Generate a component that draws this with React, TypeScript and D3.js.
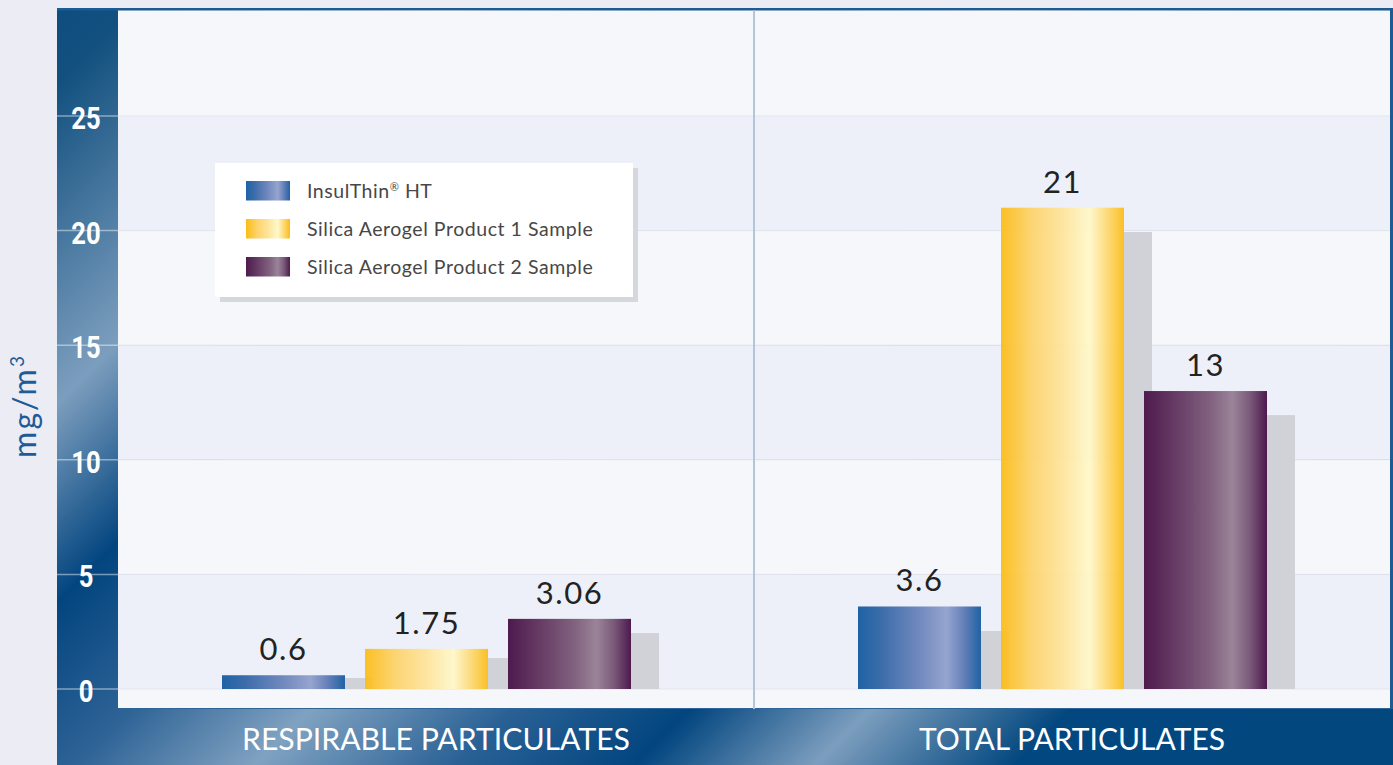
import React from "react";
import * as d3 from "d3";

const categories = ["RESPIRABLE PARTICULATES", "TOTAL PARTICULATES"];
const seriesNames = ["InsulThin HT", "Silica Aerogel Product 1 Sample", "Silica Aerogel Product 2 Sample"];
const insulThin = [0.6, 3.6];
const aerogel1 = [1.75, 21];
const aerogel2 = [3.06, 13];
const shadowInsulThin = [0.48, 2.53];
const shadowAerogel1 = [1.35, 19.94];
const shadowAerogel2 = [2.44, 11.95];
const valueLabels = [["0.6", "3.6"], ["1.75", "21"], ["3.06", "13"]];
const yTicks = [0, 5, 10, 15, 20, 25];

const W = 1393;
const H = 765;

export default function App() {
  const plotLeft = 118;
  const plotRight = 1390;
  const plotTop = 10.5;
  const plotBottom = 709;

  const y = d3.scaleLinear().domain([0, 25]).range([689, 116]);
  const xOuter = d3.scaleBand<string>().domain(categories).range([plotLeft, plotRight]).padding(0);
  const xInner = d3.scaleBand<string>().domain(seriesNames).range([104, 513]).paddingInner(0.14).paddingOuter(0);

  const values = [insulThin, aerogel1, aerogel2];
  const shadows = [shadowInsulThin, shadowAerogel1, shadowAerogel2];
  const gradIds = ["gBlue", "gGold", "gPurple"];
  const catWidths = [388, 306];

  const bands: { y0: number; y1: number; dark: boolean }[] = [];
  bands.push({ y0: plotTop, y1: y(25), dark: false });
  for (let i = yTicks.length - 1; i > 0; i--) {
    const hi = yTicks[i];
    const lo = yTicks[i - 1];
    bands.push({ y0: y(hi), y1: y(lo), dark: (yTicks.length - 1 - i) % 2 === 0 });
  }
  bands.push({ y0: y(0), y1: plotBottom, dark: false });

  const shadowW = 28;

  return (
    <div style={{ position: "absolute", left: 0, top: 0 }}>
      <svg width={W} height={H} viewBox={`0 0 ${W} ${H}`} style={{ display: "block" }}>
        <defs>
          <linearGradient id="frameGrad" gradientUnits="userSpaceOnUse" x1={0} y1={0} x2={1000} y2={1000}>
            <stop offset="0" stopColor="#0B4A80" />
            <stop offset="0.07" stopColor="#12507F" />
            <stop offset="0.23" stopColor="#7C9EBE" />
            <stop offset="0.33" stopColor="#03457F" />
            <stop offset="0.42" stopColor="#2E6396" />
            <stop offset="0.51" stopColor="#80A2C1" />
            <stop offset="0.61" stopColor="#2A6195" />
            <stop offset="0.70" stopColor="#02457F" />
            <stop offset="0.79" stopColor="#7C9EBE" />
            <stop offset="0.89" stopColor="#02477F" />
            <stop offset="1" stopColor="#02487F" />
          </linearGradient>
          <linearGradient id="gBlue" x1="0" y1="0" x2="1" y2="0">
            <stop offset="0" stopColor="#1F62A6" />
            <stop offset="0.18" stopColor="#3A6CAA" />
            <stop offset="0.5" stopColor="#7289BE" />
            <stop offset="0.72" stopColor="#95A5CF" />
            <stop offset="0.86" stopColor="#6580B8" />
            <stop offset="1" stopColor="#1F62A6" />
          </linearGradient>
          <linearGradient id="gGold" x1="0" y1="0" x2="1" y2="0">
            <stop offset="0" stopColor="#FCBC15" />
            <stop offset="0.25" stopColor="#FDD36A" />
            <stop offset="0.5" stopColor="#FEE49A" />
            <stop offset="0.72" stopColor="#FFF8CA" />
            <stop offset="0.87" stopColor="#FDD76E" />
            <stop offset="1" stopColor="#FCBC15" />
          </linearGradient>
          <linearGradient id="gPurple" x1="0" y1="0" x2="1" y2="0">
            <stop offset="0" stopColor="#4E1A4E" />
            <stop offset="0.3" stopColor="#6A4168" />
            <stop offset="0.55" stopColor="#826380" />
            <stop offset="0.72" stopColor="#9B8499" />
            <stop offset="0.86" stopColor="#7A5A7A" />
            <stop offset="1" stopColor="#4E1A4E" />
          </linearGradient>
        </defs>

        <rect x={0} y={0} width={W} height={H} fill="#ECECF5" />
        <rect x={57} y={8} width={W - 57} height={H - 8} fill="url(#frameGrad)" />
        <rect x={57} y={8} width={W - 57} height={2.5} fill="#1D5B92" />
        <rect x={plotRight} y={8} width={W - plotRight} height={plotBottom - 8} fill="#1D5B92" />

        {bands.map((b, i) => (
          <rect key={"band" + i} x={plotLeft} y={b.y0} width={plotRight - plotLeft} height={b.y1 - b.y0}
            fill={b.dark ? "#EDF0F8" : "#F6F7FB"} />
        ))}
        {yTicks.map((t) => (
          <line key={"gl" + t} x1={plotLeft} x2={plotRight} y1={y(t)} y2={y(t)} stroke="#E3E6EF" strokeWidth={1} />
        ))}
        <line x1={plotLeft} x2={plotRight} y1={plotBottom - 0.5} y2={plotBottom - 0.5} stroke="#2F6596" strokeWidth={1} />

        <line x1={xOuter(categories[1])!} x2={xOuter(categories[1])!} y1={plotTop} y2={plotBottom}
          stroke="#B3C5DA" strokeWidth={2} />

        {yTicks.map((t) => (
          <g key={"yt" + t}>
            <line x1={57} x2={plotLeft} y1={y(t)} y2={y(t)} stroke="rgba(255,255,255,0.45)" strokeWidth={1.5} />
            <text transform={`translate(86, ${y(t) + 13}) scale(0.8, 1)`} textAnchor="middle" fill="#FFFFFF"
              style={{ font: "bold 32px Roboto, 'Liberation Sans', sans-serif" }}>
              {t}
            </text>
          </g>
        ))}

        <text transform="translate(36,406) rotate(-90)" textAnchor="middle" fill="#1F5C97"
          style={{ font: "32px Lato, sans-serif", letterSpacing: "2px" }}>
          mg/m<tspan dy={-12} style={{ fontSize: "19px" }}>3</tspan>
        </text>

        {seriesNames.map((s, si) =>
          categories.map((c, ci) => {
            const x0 = xOuter(c)! + xInner(s)! + xInner.bandwidth();
            return (
              <rect key={"sh" + si + ci} x={x0} y={y(shadows[si][ci])} width={shadowW}
                height={y(0) - y(shadows[si][ci])} fill="#D1D2D8" />
            );
          })
        )}

        {seriesNames.map((s, si) =>
          categories.map((c, ci) => {
            const x0 = xOuter(c)! + xInner(s)!;
            const v = values[si][ci];
            return (
              <g key={"bar" + si + ci}>
                <rect x={x0} y={y(v)} width={xInner.bandwidth()} height={y(0) - y(v)}
                  fill={`url(#${gradIds[si]})`} opacity={si === 1 ? 0.93 : 1} />
                <text x={x0 + xInner.bandwidth() / 2} y={y(v) - 15} textAnchor="middle" fill="#222222"
                  style={{ font: "31px Lato, sans-serif", letterSpacing: "1.5px" }}>
                  {valueLabels[si][ci]}
                </text>
              </g>
            );
          })
        )}

        {categories.map((c, ci) => (
          <text key={"cat" + c} x={xOuter(c)! + xOuter.bandwidth() / 2} y={750} textAnchor="middle" fill="#FFFFFF"
            textLength={catWidths[ci]} lengthAdjust="spacingAndGlyphs"
            style={{ font: "400 31px Lato, sans-serif" }}>
            {c}
          </text>
        ))}

        <rect x={220} y={168} width={418} height={134} fill="#D6D7DD" />
        <rect x={215} y={163} width={418} height={134} fill="#FFFFFF" />
        {seriesNames.map((s, si) => (
          <g key={"lg" + si} transform={`translate(246, ${181 + si * 38})`}>
            <rect x={0} y={0} width={44} height={19.5} fill={`url(#${gradIds[si]})`} />
            <text x={61} y={17} fill="#474747" style={{ font: "19.5px Lato, sans-serif", letterSpacing: "0.55px" }}>
              {si === 0 ? (
                <>
                  InsulThin<tspan dy={-7} style={{ fontSize: "11px" }}>®</tspan>
                  <tspan dy={7}> HT</tspan>
                </>
              ) : (
                s
              )}
            </text>
          </g>
        ))}
      </svg>
    </div>
  );
}
